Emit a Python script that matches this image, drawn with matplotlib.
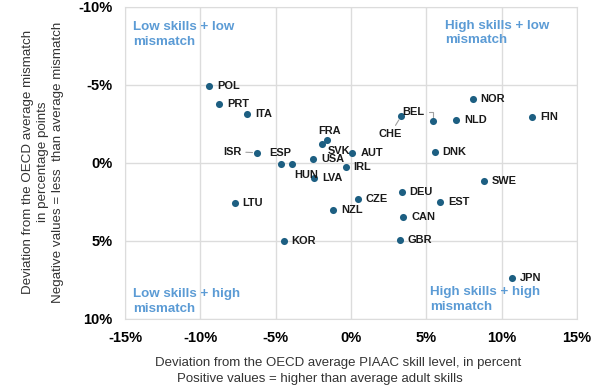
import matplotlib
matplotlib.use("Agg")
import matplotlib.pyplot as plt
from matplotlib.ticker import FuncFormatter

plt.rcParams['font.family'] = ['Liberation Sans', 'DejaVu Sans']
plt.rcParams['axes.unicode_minus'] = False

# Country codes and their positions
countries = ['POL', 'PRT', 'ITA', 'ISR', 'ESP', 'HUN', 'USA', 'LVA', 'FRA', 'SVK',
             'AUT', 'IRL', 'LTU', 'KOR', 'NZL', 'CZE', 'CHE', 'BEL', 'NOR', 'NLD',
             'FIN', 'DNK', 'SWE', 'DEU', 'EST', 'CAN', 'GBR', 'JPN']
# deviation from OECD average skill level (%)
skill_dev = [-9.44, -8.76, -6.88, -6.26, -4.67, -3.94, -2.52, -2.43, -1.60, -1.90,
             0.09, -0.35, -7.72, -4.47, -1.19, 0.46, 3.32, 5.42, 8.07, 6.97,
             12.0, 5.55, 8.80, 3.36, 5.93, 3.47, 3.23, 10.66]
# deviation from OECD average mismatch (percentage points)
mismatch_dev = [-4.92, -3.79, -3.16, -0.66, 0.06, 0.06, -0.24, 0.99, -1.48, -1.20,
                -0.66, 0.28, 2.56, 5.03, 3.01, 2.32, -2.99, -2.71, -4.13, -2.75,
                -2.95, -0.71, 1.16, 1.83, 2.50, 3.44, 4.92, 7.35]

x_ticks = [-15, -10, -5, 0, 5, 10, 15]
y_ticks = [-10, -5, 0, 5, 10]

dot_color = '#1d5f82'
quad_color = '#5b9bd5'
grid_color = '#dcdcdc'

# label placement: (dx px, dy px downwards, ha, leader style)
label_pos = {
    'ISR': (-15, -1, 'right', 'straight'),
    'ESP': (0, -11, 'center', None),
    'HUN': (15, 11, 'center', None),
    'FRA': (3, -9, 'center', None),
    'SVK': (5, 7, 'left', None),
    'CHE': (-11, 18, 'center', 'straight'),
    'BEL': (-19, -9, 'center', 'angle'),
}

fig = plt.figure(figsize=(6.01, 3.9), dpi=100)
ax = fig.add_axes([125 / 601, 1 - 319 / 390, 452 / 601, 312 / 390])

ax.scatter(skill_dev, mismatch_dev, s=26, color=dot_color, zorder=3, linewidths=0)

for c, x, y in zip(countries, skill_dev, mismatch_dev):
    dx, dy, ha, leader = label_pos.get(c, (8, 0, 'left', None))
    kw = {}
    if leader == 'straight':
        kw['arrowprops'] = dict(arrowstyle='-', color='#a0a0a0', lw=0.8,
                                shrinkA=1, shrinkB=3)
    elif leader == 'angle':
        kw['arrowprops'] = dict(arrowstyle='-', color='#a0a0a0', lw=0.8,
                                shrinkA=1, shrinkB=3,
                                connectionstyle='angle,angleA=0,angleB=90,rad=0')
    ax.annotate(c, (x, y), xytext=(dx, -dy), textcoords='offset pixels',
                ha=ha, va='center', fontsize=7.9, fontweight='bold',
                color='#1a1a1a', zorder=4, **kw)

ax.set_xlim(-15, 15)
ax.set_ylim(10, -10)
ax.set_xticks(x_ticks)
ax.set_yticks(y_ticks)
fmt = FuncFormatter(lambda v, p: f"{v:.0f}%")
ax.xaxis.set_major_formatter(fmt)
ax.yaxis.set_major_formatter(fmt)
ax.tick_params(length=0, pad=9, labelsize=10.5)
for lab in ax.get_xticklabels() + ax.get_yticklabels():
    lab.set_fontweight('bold')
ax.grid(True, color=grid_color, lw=1)
ax.set_axisbelow(True)
for s in ax.spines.values():
    s.set_color(grid_color)

# quadrant labels
qkw = dict(fontsize=9.6, fontweight='bold', color=quad_color, va='center',
           ha='left', linespacing=1.3)
fig.text(133 / 601, 1 - 34.5 / 390, "Low skills + low\nmismatch", **qkw)
fig.text(445 / 601, 1 - 33 / 390, "High skills + low\nmismatch", **qkw)
fig.text(133 / 601, 1 - 301.5 / 390, "Low skills + high\nmismatch", **qkw)
fig.text(430 / 601, 1 - 299.5 / 390, "High skills + high\nmismatch", **qkw)

# axis titles
fig.text(43 / 601, 1 - 162 / 390,
         "Deviation from the OECD average mismatch\nin percentage points\n"
         "Negative values = less  than average mismatch",
         rotation=90, ha='center', va='center', fontsize=9.6, color='#333333',
         linespacing=1.35)
fig.text(338 / 601, 1 - 363 / 390,
         "Deviation from the OECD average PIAAC skill level, in percent",
         ha='center', va='center', fontsize=9.5, color='#333333')
fig.text(320 / 601, 1 - 379 / 390,
         "Positive values = higher than average adult skills",
         ha='center', va='center', fontsize=9.5, color='#333333')

fig.savefig('out.png', dpi=100)
